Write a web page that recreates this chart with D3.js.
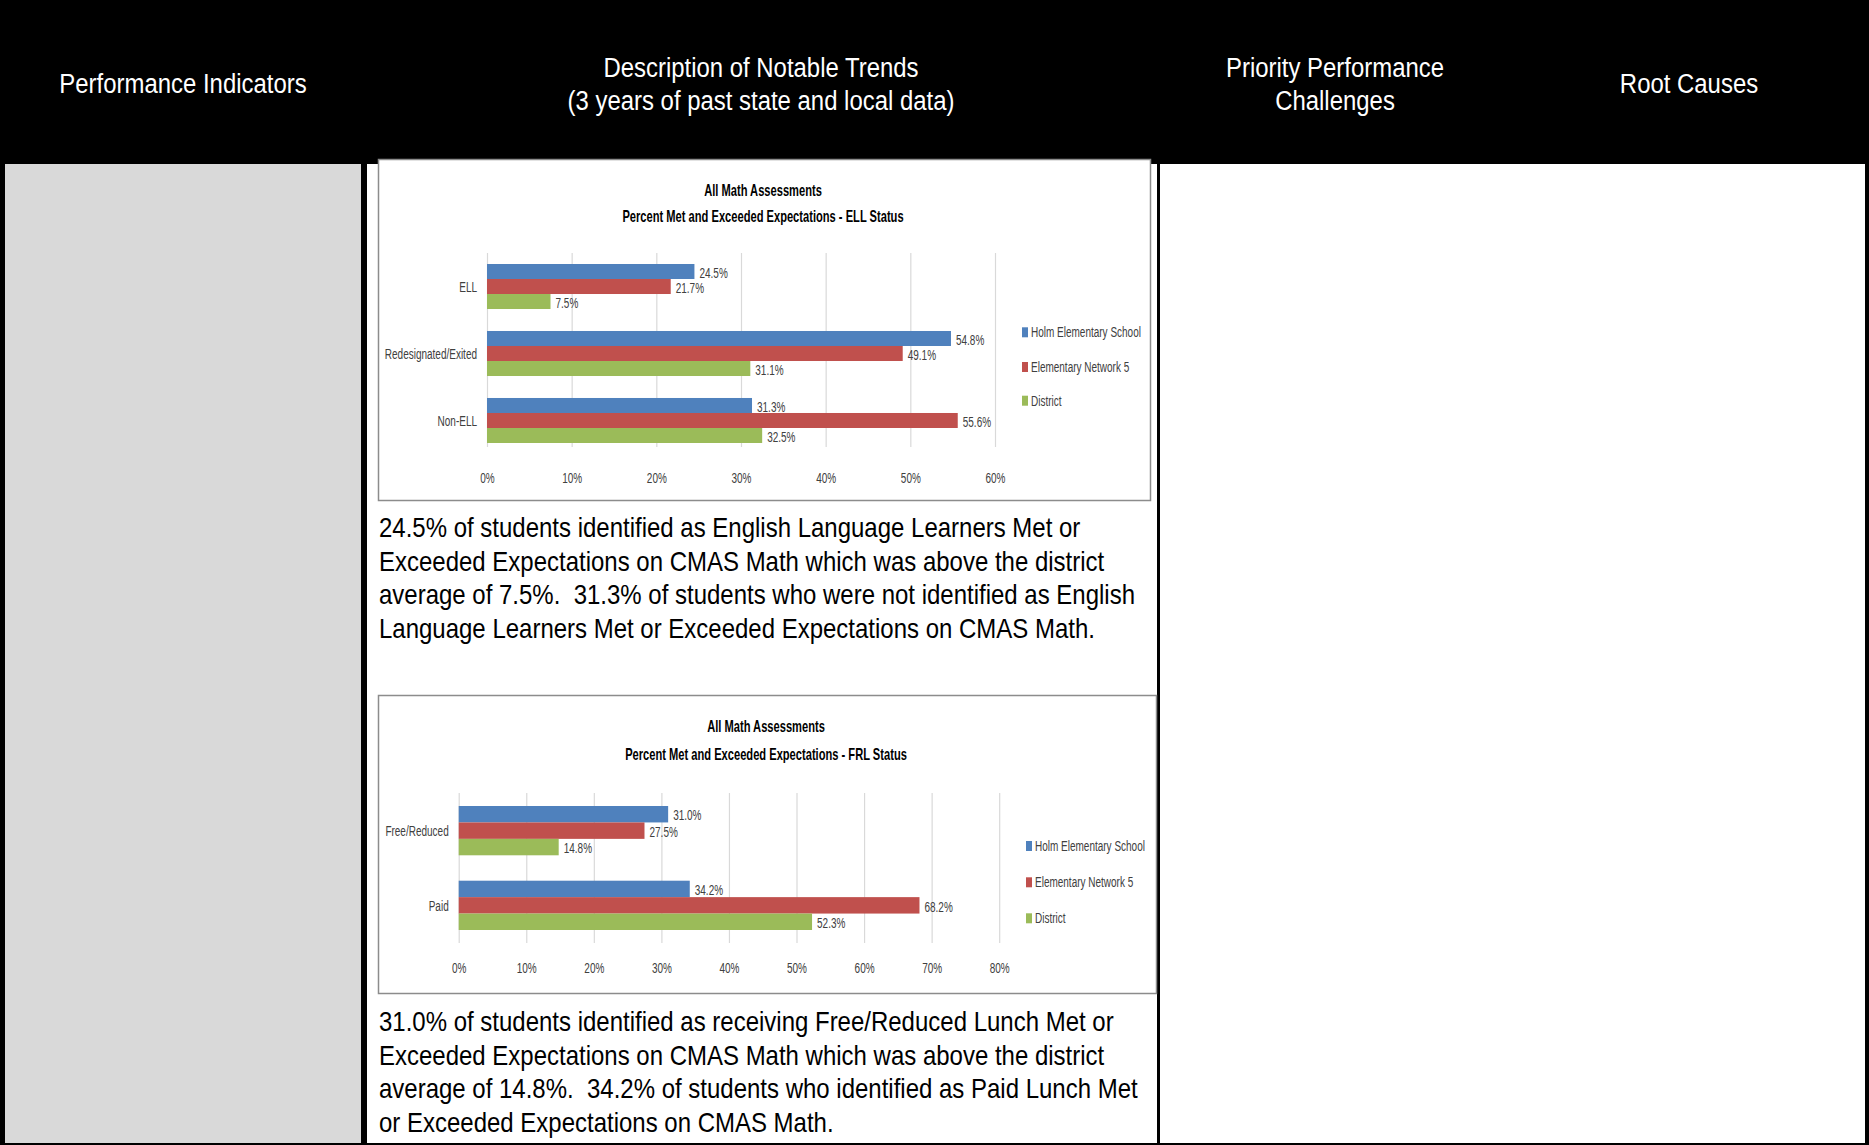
<!DOCTYPE html>
<html>
<head>
<meta charset="utf-8">
<script src="https://cdn.jsdelivr.net/npm/d3@7"></script>
<style>
  html, body { margin: 0; padding: 0; background: #000; }
  svg { display: block; }
  text { font-family: "Liberation Sans", Arial, sans-serif; white-space: pre; }
</style>
</head>
<body>
<svg id="page" width="1869" height="1145"></svg>
<script>
// ---------------- DATA ----------------
const seriesNames = ["Holm Elementary School", "Elementary Network 5", "District"];
const seriesColors = ["#4F81BD", "#C0504D", "#9BBB59"];

const ellCategories = ["ELL", "Redesignated/Exited", "Non-ELL"];
const ellHolm = [24.5, 54.8, 31.3];
const ellNetwork = [21.7, 49.1, 55.6];
const ellDistrict = [7.5, 31.1, 32.5];
const ellTicks = [0, 10, 20, 30, 40, 50, 60];

const frlCategories = ["Free/Reduced", "Paid"];
const frlHolm = [31.0, 34.2];
const frlNetwork = [27.5, 68.2];
const frlDistrict = [14.8, 52.3];
const frlTicks = [0, 10, 20, 30, 40, 50, 60, 70, 80];

const headerCells = [
  { lines: ["Performance Indicators"], cx: 183 },
  { lines: ["Description of Notable Trends", "(3 years of past state and local data)"], cx: 761 },
  { lines: ["Priority Performance", "Challenges"], cx: 1335 },
  { lines: ["Root Causes"], cx: 1689 }
];

const ellText = [
  "24.5% of students identified as English Language Learners Met or",
  "Exceeded Expectations on CMAS Math which was above the district",
  "average of 7.5%.  31.3% of students who were not identified as English",
  "Language Learners Met or Exceeded Expectations on CMAS Math."
];
const frlText = [
  "31.0% of students identified as receiving Free/Reduced Lunch Met or",
  "Exceeded Expectations on CMAS Math which was above the district",
  "average of 14.8%.  34.2% of students who identified as Paid Lunch Met",
  "or Exceeded Expectations on CMAS Math."
];

// ---------------- LAYOUT ----------------
const svg = d3.select("#page");

svg.append("rect").attr("x", 0).attr("y", 0).attr("width", 1869).attr("height", 1145).attr("fill", "#000");
svg.append("rect").attr("x", 5).attr("y", 164).attr("width", 356).attr("height", 979).attr("fill", "#D9D9D9");
svg.append("rect").attr("x", 367).attr("y", 164).attr("width", 790).attr("height", 979).attr("fill", "#fff");
svg.append("rect").attr("x", 1160).attr("y", 164).attr("width", 1705).attr("height", 979).attr("fill", "#fff");
svg.append("rect").attr("x", 1865).attr("y", 0).attr("width", 4).attr("height", 1145).attr("fill", "#000");

function stext(parent, x, y, str, o) {
  o = o || {};
  return parent.append("text")
    .attr("transform", `translate(${x},${y}) scale(${o.sx || 1},1)`)
    .attr("text-anchor", o.anchor || "start")
    .attr("font-size", o.size || 14)
    .attr("font-weight", o.weight || "normal")
    .attr("fill", o.fill || "#000")
    .attr("dominant-baseline", o.baseline || "auto")
    .attr("xml:space", "preserve")
    .text(str);
}

const hdr = svg.append("g");
headerCells.forEach(c => {
  const base = c.lines.length === 1 ? [93] : [77, 110];
  c.lines.forEach((l, i) => stext(hdr, c.cx, base[i], l, { sx: 0.855, size: 28, anchor: "middle", fill: "#fff" }));
});

function paragraph(lines, x, y0, lh) {
  const g = svg.append("g");
  lines.forEach((l, i) => stext(g, x, y0 + i * lh, l, { sx: 0.857, size: 28, fill: "#000" }));
}
paragraph(ellText, 379, 537, 33.5);
paragraph(frlText, 379, 1031, 33.5);

// ---------------- CHARTS ----------------
function drawChart(cfg) {
  const g = svg.append("g");
  g.append("rect").attr("x", cfg.box[0] + 0.5).attr("y", cfg.box[1] + 0.5)
    .attr("width", cfg.box[2] - cfg.box[0]).attr("height", cfg.box[3] - cfg.box[1])
    .attr("fill", "#fff").attr("stroke", "#8C8C8C").attr("stroke-width", 1.5);

  stext(g, cfg.titleX, cfg.titleY[0], "All Math Assessments", { sx: 0.655, size: 17, weight: "bold", anchor: "middle" });
  stext(g, cfg.titleX, cfg.titleY[1], cfg.subtitle, { sx: 0.655, size: 17, weight: "bold", anchor: "middle" });

  const x = d3.scaleLinear().domain([0, d3.max(cfg.ticks)]).range(cfg.xRange);
  const y = d3.scaleBand().domain(cfg.categories).range(cfg.yRange)
    .paddingInner(cfg.padInner).paddingOuter(cfg.padOuter);
  const ys = d3.scaleBand().domain(seriesNames).range([0, y.bandwidth()]);

  const grid = g.append("g").attr("transform", `translate(0,${cfg.gridBottom})`)
    .call(d3.axisBottom(x).tickValues(cfg.ticks).tickSize(-(cfg.gridBottom - cfg.gridTop)).tickFormat(""));
  grid.select(".domain").remove();
  grid.selectAll("line").attr("stroke", "#D9D9D9").attr("stroke-width", 1.2);

  const ax = g.append("g").attr("transform", `translate(0,${cfg.tickLabelY})`)
    .call(d3.axisBottom(x).tickValues(cfg.ticks).tickSize(0).tickPadding(0).tickFormat(d => d + "%"));
  ax.select(".domain").remove();
  ax.selectAll("text").attr("font-size", 14.5).attr("fill", "#404040")
    .attr("font-family", "Liberation Sans, Arial, sans-serif")
    .attr("dy", "0.35em").attr("y", 0)
    .attr("transform", "scale(0.69,1)");

  const rows = cfg.categories.map((c, i) => ({
    cat: c,
    vals: seriesNames.map((s, j) => ({ s, j, v: cfg.series[j][i] }))
  }));

  const grp = g.selectAll(".grp").data(rows).join("g")
    .attr("transform", d => `translate(0,${y(d.cat)})`);

  grp.selectAll("rect").data(d => d.vals).join("rect")
    .attr("x", x(0))
    .attr("y", d => ys(d.s))
    .attr("width", d => x(d.v) - x(0))
    .attr("height", ys.bandwidth())
    .attr("fill", d => seriesColors[d.j]);

  grp.selectAll("text.val").data(d => d.vals).join("text")
    .attr("class", "val")
    .attr("transform", d => `translate(${x(d.v) + 5},${ys(d.s) + ys.bandwidth() / 2 + 1.5}) scale(0.69,1)`)
    .attr("font-size", 14.5).attr("fill", "#404040")
    .attr("dominant-baseline", "central")
    .text(d => d.v.toFixed(1) + "%");

  cfg.categories.forEach(c => {
    stext(g, x(0) - 10, y(c) + y.bandwidth() / 2 + 1, c, { sx: 0.69, size: 14.5, anchor: "end", fill: "#404040", baseline: "central" });
  });

  seriesNames.forEach((s, j) => {
    const cy = cfg.legendY[j];
    g.append("rect").attr("x", cfg.legendX).attr("y", cy - 5).attr("width", 6).attr("height", 10)
      .attr("fill", seriesColors[j]);
    stext(g, cfg.legendX + 9, cy + 0.5, s, { sx: 0.69, size: 14.5, fill: "#404040", baseline: "central" });
  });
}

drawChart({
  box: [378, 159, 1150, 500],
  titleX: 763, titleY: [196, 222],
  subtitle: "Percent Met and Exceeded Expectations - ELL Status",
  categories: ellCategories,
  series: [ellHolm, ellNetwork, ellDistrict],
  ticks: ellTicks,
  xRange: [487, 995],
  yRange: [257.3, 449.7], padInner: 0.328, padOuter: 0.1,
  gridTop: 253, gridBottom: 447,
  tickLabelY: 478,
  legendX: 1022, legendY: [332.3, 367, 400.7]
});

drawChart({
  box: [378, 695, 1156, 993],
  titleX: 766, titleY: [732, 760],
  subtitle: "Percent Met and Exceeded Expectations - FRL Status",
  categories: frlCategories,
  series: [frlHolm, frlNetwork, frlDistrict],
  ticks: frlTicks,
  xRange: [458.7, 999.2],
  yRange: [794.8, 941.2], padInner: 0.34, padOuter: 0.15,
  gridTop: 793, gridBottom: 943,
  tickLabelY: 968,
  legendX: 1026, legendY: [846, 882.3, 918.3]
});
</script>
</body>
</html>
